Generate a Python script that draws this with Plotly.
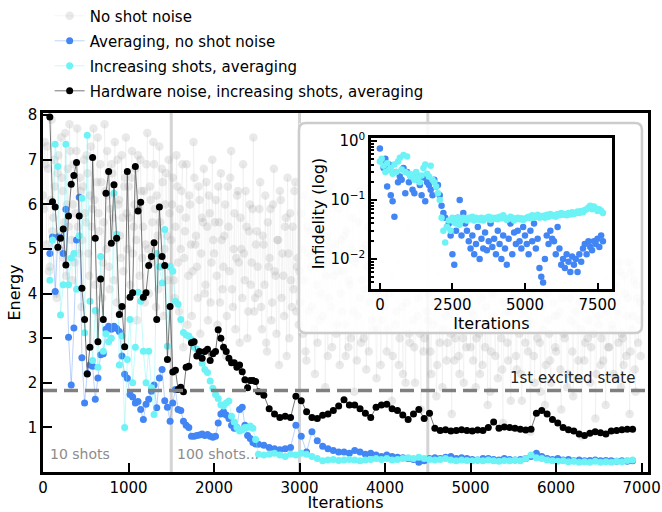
import numpy as np
import plotly.graph_objects as go

# ---------------- data ----------------
# "No shot noise" energies, two interleaved halves (even / odd sample slots)
GRAY_START, GRAY_STEP = 0, 10
GRAY_ENERGY_EVEN = [
    6.2, 7.4, 5.1, 6.8, 4.6, 7.9, 5.7, 6.4, 3.9, 7.1, 5.3, 6.6, 4.8, 7.6, 6.0, 5.5, 7.2, 4.3, 6.9, 5.8, 7.7, 4.9, 6.3, 5.2, 7.0,
    5.6, 6.7, 4.4, 7.3, 5.9, 6.1, 3.6, 7.5, 5.4, 6.5, 4.7, 7.8, 5.0, 6.2, 4.1, 6.9, 5.7, 7.4, 3.8, 6.0, 5.3, 7.1, 4.5, 6.6, 5.8,
    6.4, 4.2, 7.2, 5.5, 6.8, 3.4, 5.9, 7.0, 4.8, 6.3, 5.1, 7.6, 4.0, 6.1, 5.6, 6.9, 3.7, 5.3, 7.3, 4.6, 6.5, 5.0, 6.7, 4.3, 5.8,
    5.2, 6.6, 3.9, 7.1, 4.7, 5.9, 6.3, 2.8, 5.4, 6.9, 4.4, 6.0, 3.5, 7.4, 5.1, 4.6, 6.4, 3.1, 5.7, 6.8, 4.2, 5.5, 6.2, 3.8, 7.0,
    4.9, 6.1, 3.3, 5.6, 6.7, 4.1, 5.3, 2.6, 6.4, 4.5, 7.2, 3.7, 5.8, 4.8, 6.3, 2.9, 5.0, 6.9, 4.3, 5.5, 3.6, 6.0, 4.7, 7.5, 3.9,
    5.4, 4.0, 6.5, 3.2, 5.1, 6.2, 2.7, 4.6, 5.9, 3.8, 6.8, 4.4, 5.2, 2.4, 6.1, 4.9, 3.5, 5.7, 6.6, 3.0, 4.3, 5.5, 6.3, 3.6, 4.8,
    4.5, 5.8, 3.1, 6.2, 2.5, 4.9, 5.4, 3.7, 6.6, 2.2, 4.2, 5.6, 3.4, 6.0, 4.7, 1.9, 5.2, 3.9, 6.4, 2.8, 4.4, 5.1, 3.3, 5.9, 4.0,
    3.6, 5.3, 2.6, 6.1, 4.3, 3.0, 5.7, 1.8, 4.8, 3.5, 6.3, 2.9, 5.0, 4.1, 2.3, 5.5, 3.8, 6.7, 3.2, 4.6, 2.1, 5.2, 4.0, 3.4, 5.9,
    3.9, 2.7, 5.1, 4.4, 1.6, 5.8, 3.3, 4.7, 2.4, 6.0, 3.7, 4.9, 2.0, 5.4, 3.1, 4.2, 6.2, 2.8, 4.6, 3.5, 5.6, 1.4, 4.1, 3.0, 5.0,
    3.4, 4.8, 2.2, 5.3, 3.8, 1.7, 4.5, 2.9, 5.7, 3.2, 4.1, 2.5, 5.0, 3.6, 1.3, 4.4, 3.0, 5.5, 2.6, 4.7, 3.9, 2.0, 5.2, 3.3, 4.3,
    2.8, 4.6, 3.5, 1.9, 5.1, 3.1, 4.2, 2.4, 5.6, 3.7, 1.5, 4.9, 2.7, 4.0, 3.3, 5.4, 2.1, 4.5, 3.0, 1.1, 4.7, 3.6, 2.5, 5.0, 3.9,
    3.2, 4.4, 2.3, 5.3, 3.8, 1.6, 4.1, 2.9, 4.8, 3.4, 0.9, 4.6, 2.6, 5.1, 3.0, 4.3, 1.8, 3.7, 5.5, 2.4, 4.0, 3.1, 2.0, 4.9, 3.5,
    2.7, 4.2, 3.6, 1.4, 4.7, 3.0, 5.2, 2.2, 3.9, 4.5, 1.7, 3.3, 4.9, 2.5, 3.8, 0.8, 4.4, 2.9, 5.0, 3.4, 2.0, 4.1, 3.1, 1.2, 4.6,
    3.3, 2.4, 4.8, 3.7, 1.5, 4.3, 2.8, 5.1, 3.2, 4.0, 2.1, 3.6, 4.7, 1.9, 3.0, 4.4, 2.6, 3.9, 1.3, 4.5, 3.5, 2.3, 4.2, 2.9, 3.8,
]
GRAY_ENERGY_ODD = [
    5.9, 6.9, 7.3, 4.5, 6.1, 5.4, 7.0, 4.0, 6.7, 5.0, 7.5, 6.3, 5.6, 4.4, 6.8, 7.8, 5.2, 6.0, 4.7, 7.2, 5.5, 6.6, 3.7, 6.4, 5.8,
    7.1, 4.9, 6.2, 5.5, 7.7, 4.2, 6.5, 5.8, 6.9, 3.9, 5.6, 6.3, 7.2, 4.6, 5.9, 6.7, 4.3, 5.2, 7.0, 6.1, 4.8, 5.7, 6.4, 7.5, 5.0,
    5.7, 6.6, 4.9, 6.0, 5.2, 7.1, 4.4, 6.3, 5.5, 3.8, 6.9, 5.0, 6.4, 4.7, 7.4, 5.9, 6.2, 4.1, 5.6, 6.8, 3.5, 6.0, 5.3, 7.0, 4.6,
    6.0, 4.3, 5.5, 6.4, 3.6, 5.0, 6.9, 4.8, 5.7, 3.3, 6.2, 5.1, 4.5, 6.6, 5.3, 3.9, 6.1, 4.9, 5.6, 4.0, 6.5, 3.4, 5.8, 4.7, 5.2,
    5.6, 4.4, 6.4, 3.8, 5.2, 4.6, 6.0, 3.5, 5.5, 6.6, 4.1, 5.0, 3.2, 6.2, 4.7, 5.7, 3.9, 4.9, 6.3, 3.0, 5.4, 4.2, 5.9, 3.6, 5.1,
    4.6, 5.9, 3.7, 5.3, 4.2, 2.9, 5.6, 4.8, 3.4, 6.0, 4.5, 3.1, 5.2, 6.3, 3.9, 4.4, 5.5, 2.6, 4.9, 5.8, 3.7, 4.1, 6.5, 4.6, 3.3,
    3.8, 5.0, 4.3, 2.7, 5.5, 3.6, 4.6, 6.1, 3.2, 4.9, 2.9, 5.3, 4.0, 3.5, 5.8, 4.4, 2.6, 5.0, 3.7, 4.7, 6.0, 3.1, 4.5, 2.4, 5.2,
    4.5, 3.3, 5.4, 2.8, 4.2, 5.0, 3.6, 4.7, 2.5, 5.6, 3.9, 4.3, 3.0, 5.1, 4.6, 2.7, 4.9, 3.4, 5.8, 4.0, 3.2, 4.8, 2.4, 5.3, 3.7,
    4.6, 3.2, 4.0, 5.3, 2.6, 4.4, 3.6, 5.0, 3.0, 4.7, 2.2, 4.2, 3.8, 5.5, 2.9, 4.5, 3.4, 2.0, 4.8, 3.9, 3.1, 5.1, 2.7, 4.3, 3.6,
    4.0, 2.7, 4.6, 3.3, 5.0, 2.4, 3.8, 4.4, 1.9, 4.9, 3.5, 2.9, 4.2, 3.1, 5.3, 2.5, 4.0, 3.7, 2.2, 4.6, 3.0, 4.8, 2.8, 3.9, 4.5,
    3.6, 2.5, 4.3, 3.0, 4.8, 2.2, 3.9, 4.5, 2.8, 3.3, 4.7, 1.8, 4.1, 3.5, 2.6, 4.6, 3.2, 5.0, 2.3, 3.8, 4.4, 2.9, 3.6, 1.6, 4.2,
    3.9, 2.6, 4.6, 3.1, 2.2, 4.3, 3.6, 5.0, 2.7, 4.0, 3.3, 4.8, 2.0, 3.7, 4.4, 2.9, 4.1, 3.2, 1.5, 4.7, 3.4, 2.5, 4.2, 3.8, 2.8,
    3.5, 4.6, 2.3, 3.9, 3.1, 4.3, 1.9, 4.8, 3.4, 2.7, 4.1, 3.6, 2.1, 4.5, 3.2, 3.8, 2.5, 4.9, 3.0, 4.2, 2.8, 3.7, 4.4, 2.2, 3.5,
    4.1, 3.0, 2.5, 4.4, 3.6, 2.8, 4.9, 3.3, 2.2, 4.2, 3.8, 2.9, 4.5, 3.1, 2.4, 4.0, 3.5, 4.7, 2.7, 3.2, 4.3, 1.8, 3.9, 3.4, 2.6,
]

EARLY_START, EARLY_STEP = 80, 31.25
LATE_START, LATE_STEP = 2520, 62.5

BLUE_EARLY = [
    4.90, 5.27, 4.05, 5.27, 5.25, 4.90, 5.89, 3.02, 1.95, 3.23,
    5.20, 6.16, 2.56, 1.55, 2.21, 2.40, 2.37, 1.63, 2.11, 2.63,
    2.65, 3.20, 3.27, 3.20, 3.27, 3.22, 3.15, 2.60, 2.19, 2.10,
    1.74, 1.68, 1.55, 1.58, 1.40, 1.18, 1.52, 1.63, 1.81, 1.95,
    1.44, 2.11, 2.30, 1.60, 1.45, 1.14, 1.55, 1.85, 1.40, 1.38,
    1.14, 1.05, 1.00, 0.80, 0.80, 0.82, 0.83, 0.85, 0.82, 0.84,
    0.80, 0.78, 0.80, 1.10, 1.30, 1.35, 1.28, 1.20, 1.05, 0.98,
    1.00, 1.40, 1.45, 1.05, 0.82, 0.75, 0.66, 0.63,
]
BLUE_LATE = [
    0.62, 0.60, 0.55, 0.52, 0.50, 0.52, 0.55, 1.05, 0.80, 0.45,
    0.90, 0.70, 0.58, 0.52, 0.48, 0.45, 0.45, 0.42, 0.48, 0.45,
    0.40, 0.42, 0.38, 0.35, 0.38, 0.35, 0.33, 0.32, 0.30, 0.28,
    0.22, 0.25, 0.30, 0.32, 0.30, 0.33, 0.35, 0.30, 0.32, 0.30,
    0.28, 0.27, 0.30, 0.30, 0.28, 0.27, 0.30, 0.28, 0.27, 0.28,
    0.30, 0.35, 0.42, 0.35, 0.30, 0.28, 0.30, 0.27, 0.28, 0.25,
    0.27, 0.25, 0.26, 0.27, 0.25, 0.26, 0.25, 0.24, 0.25, 0.24,
    0.25,
]
CYAN_EARLY = [
    4.30, 5.20, 7.35, 6.85, 3.52, 4.20, 7.35, 4.20, 4.80, 4.90,
    4.10, 5.30, 6.14, 3.12, 7.55, 3.83, 2.50, 3.62, 2.35, 4.83,
    2.71, 3.10, 2.92, 3.00, 6.25, 5.33, 2.40, 3.05, 1.00, 2.52,
    3.42, 2.00, 2.80, 4.03, 3.83, 2.71, 2.00, 2.71, 1.89, 1.29,
    4.90, 4.60, 4.24, 5.44, 2.82, 4.60, 4.50, 3.83, 3.76, 3.42,
    3.13, 3.07, 3.05, 2.97, 2.80, 2.75, 2.60, 2.44, 2.30, 2.23,
    2.04, 1.88, 1.74, 1.65, 1.51, 1.48, 1.55, 1.59, 1.25, 1.12,
    1.00, 0.92, 0.95, 1.00, 1.00, 1.03, 0.98, 0.73,
]
CYAN_LATE = [
    0.40, 0.38, 0.40, 0.42, 0.38, 0.35, 0.40, 0.38, 0.42, 0.40,
    0.35, 0.30, 0.25, 0.27, 0.28, 0.26, 0.27, 0.28, 0.27, 0.25,
    0.27, 0.28, 0.30, 0.28, 0.30, 0.27, 0.28, 0.30, 0.32, 0.30,
    0.33, 0.30, 0.28, 0.27, 0.28, 0.30, 0.27, 0.25, 0.27, 0.26,
    0.25, 0.27, 0.25, 0.27, 0.25, 0.24, 0.26, 0.25, 0.27, 0.25,
    0.30, 0.38, 0.32, 0.30, 0.27, 0.25, 0.24, 0.25, 0.23, 0.24,
    0.22, 0.23, 0.22, 0.24, 0.22, 0.23, 0.22, 0.24, 0.23, 0.26,
    0.27,
]
BLACK_EARLY = [
    7.96, 6.06, 5.94, 5.04, 5.24, 5.45, 4.64, 5.74, 6.45, 6.65,
    6.94, 5.74, 4.12, 3.42, 2.20, 2.80, 7.05, 5.24, 2.92, 4.33,
    3.42, 6.25, 6.74, 5.13, 6.44, 5.24, 3.53, 3.71, 2.81, 6.74,
    3.92, 4.02, 6.85, 5.85, 6.05, 3.92, 4.02, 4.63, 4.83, 5.14,
    3.42, 5.94, 4.83, 4.63, 2.52, 3.71, 2.24, 2.28, 1.85, 1.90,
    1.80, 2.35, 2.37, 2.90, 2.92, 2.60, 2.70, 2.55, 2.70, 2.75,
    2.50, 2.65, 2.70, 3.19, 3.00, 2.80, 2.70, 2.55, 2.45, 2.45,
    2.35, 2.40, 2.25, 2.07, 1.89, 2.05, 2.05, 2.03,
]
BLACK_LATE = [
    1.80, 1.72, 1.42, 1.30, 1.22, 1.25, 1.22, 1.70, 1.60, 1.35,
    1.22, 1.20, 1.27, 1.30, 1.38, 1.48, 1.62, 1.50, 1.50, 1.42,
    1.32, 1.22, 1.45, 1.50, 1.52, 1.42, 1.38, 1.28, 1.18, 1.30,
    1.40, 1.20, 1.32, 0.98, 0.93, 0.95, 0.92, 0.93, 0.95, 0.93,
    0.92, 0.94, 0.93, 1.00, 1.12, 0.98, 1.01, 1.00, 0.98, 0.96,
    0.94, 0.96, 1.32, 1.38, 1.30, 1.18, 1.10, 1.00, 0.95, 0.92,
    0.85, 0.82, 0.87, 0.90, 0.88, 0.85, 0.92, 0.93, 0.95, 0.96,
    0.96,
]

INSET_START, INSET_STEP = 0, 62.5
INSET_BLUE = [
    0.75, 0.45, 0.35, 0.5, 0.17, 0.4, 0.12, 0.095, 0.052, 0.3, 0.2, 0.25, 0.22, 0.35, 0.13, 0.3,
    0.2, 0.25, 0.15, 0.13, 0.28, 0.22, 0.18, 0.12, 0.24, 0.095, 0.2, 0.18, 0.15, 0.12, 0.22, 0.17,
    0.18, 0.12, 0.08, 0.06, 0.05, 0.035, 0.04, 0.025, 0.012, 0.008, 0.03, 0.05, 0.1, 0.025, 0.06, 0.04,
    0.03, 0.02, 0.015, 0.025, 0.012, 0.018, 0.035, 0.01, 0.022, 0.015, 0.028, 0.014, 0.02, 0.04, 0.016, 0.022,
    0.012, 0.03, 0.018, 0.01, 0.025, 0.015, 0.008, 0.022, 0.04, 0.012, 0.028, 0.018, 0.03, 0.02, 0.015, 0.035,
    0.025, 0.018, 0.012, 0.03, 0.02, 0.04, 0.015, 0.022, 0.007, 0.005, 0.004, 0.01, 0.025, 0.018, 0.03, 0.022,
    0.02, 0.012, 0.035, 0.015, 0.008, 0.01, 0.007, 0.012, 0.009, 0.006, 0.011, 0.008, 0.01, 0.006, 0.012, 0.009,
    0.015, 0.018, 0.012, 0.02, 0.016, 0.014, 0.02, 0.018, 0.022, 0.016, 0.025, 0.02,
]
INSET_CYAN = [
    0.45, 0.5, 0.38, 0.3, 0.42, 0.32, 0.35, 0.28, 0.4, 0.3, 0.45, 0.52, 0.33, 0.58, 0.3, 0.55,
    0.28, 0.25, 0.27, 0.22, 0.3, 0.24, 0.2, 0.26, 0.35, 0.4, 0.28, 0.25, 0.38, 0.22, 0.2, 0.17,
    0.13, 0.1, 0.05, 0.03, 0.019, 0.035, 0.045, 0.03, 0.05, 0.042, 0.04, 0.05, 0.038, 0.045, 0.05, 0.048,
    0.045, 0.05, 0.047, 0.052, 0.045, 0.05, 0.048, 0.046, 0.05, 0.045, 0.048, 0.05, 0.052, 0.046, 0.05, 0.048,
    0.05, 0.047, 0.052, 0.049, 0.055, 0.05, 0.046, 0.048, 0.052, 0.05, 0.045, 0.048, 0.05, 0.047, 0.049, 0.046,
    0.048, 0.05, 0.052, 0.049, 0.055, 0.05, 0.053, 0.056, 0.05, 0.052, 0.054, 0.05, 0.056, 0.052, 0.058, 0.054,
    0.055, 0.052, 0.058, 0.055, 0.06, 0.056, 0.058, 0.055, 0.06, 0.057, 0.062, 0.058, 0.06, 0.064, 0.06, 0.065,
    0.062, 0.068, 0.07, 0.075, 0.08, 0.07, 0.078, 0.072, 0.065, 0.07, 0.066, 0.06,
]

SHOT_SWITCH = [1500, 3000, 4500]
EXCITED_STATE = 1.83
X_TICKS = [0, 1000, 2000, 3000, 4000, 5000, 6000, 7000]
Y_TICKS = [1, 2, 3, 4, 5, 6, 7, 8]
INSET_X_TICKS = [0, 2500, 5000, 7500]
INSET_Y_TICKS = [1, 0.1, 0.01]
INSET_Y_LABELS = ["10<sup>0</sup>", "10<sup>\u22121</sup>", "10<sup>\u22122</sup>"]

# ---------------- styling ----------------
FONT = "DejaVu Sans"
BLUE = "#4285f4"
CYAN = "#6df3f6"

gray_energy = np.empty(len(GRAY_ENERGY_EVEN) + len(GRAY_ENERGY_ODD))
gray_energy[0::2] = GRAY_ENERGY_EVEN
gray_energy[1::2] = GRAY_ENERGY_ODD
gray_it = GRAY_START + GRAY_STEP * np.arange(len(gray_energy))
early_it = EARLY_START + EARLY_STEP * np.arange(len(BLACK_EARLY))
late_it = LATE_START + LATE_STEP * np.arange(len(BLACK_LATE))
inset_it = INSET_START + INSET_STEP * np.arange(len(INSET_BLUE))


def series(early, late):
    return np.concatenate([early_it, late_it]), np.concatenate([early, late])


fig = go.Figure()

fig.add_trace(go.Scatter(
    x=gray_it, y=gray_energy, mode="lines+markers", name="No shot noise",
    legendgroup="a",
    line=dict(color="rgba(175,175,175,0.15)", width=0.8),
    marker=dict(color="rgba(160,160,160,0.23)", size=8.5),
))

bx, by = series(BLUE_EARLY, BLUE_LATE)
fig.add_trace(go.Scatter(
    x=bx, y=by, mode="lines+markers", name="Averaging, no shot noise", legendgroup="b",
    line=dict(color="rgba(66,133,244,0.45)", width=0.8),
    marker=dict(color=BLUE, size=7),
))
cx, cy = series(CYAN_EARLY, CYAN_LATE)
fig.add_trace(go.Scatter(
    x=cx, y=cy, mode="lines+markers", name="Increasing shots, averaging", legendgroup="c",
    line=dict(color="rgba(109,243,246,0.5)", width=0.8),
    marker=dict(color=CYAN, size=7),
))
kx, ky = series(BLACK_EARLY, BLACK_LATE)
fig.add_trace(go.Scatter(
    x=kx, y=ky, mode="lines+markers", name="Hardware noise, increasing shots, averaging",
    legendgroup="d",
    line=dict(color="#555555", width=0.8),
    marker=dict(color="black", size=7),
))

# box subplot (x2/y2) behind the inset, just to provide a background
fig.add_trace(go.Scatter(x=[None], y=[None], xaxis="x2", yaxis="y2", showlegend=False))

# inset
fig.add_trace(go.Scatter(
    x=inset_it, y=INSET_BLUE, mode="markers", xaxis="x3", yaxis="y3", showlegend=False,
    marker=dict(color=BLUE, size=6.5),
))
fig.add_trace(go.Scatter(
    x=inset_it, y=INSET_CYAN, mode="markers", xaxis="x3", yaxis="y3", showlegend=False,
    marker=dict(color=CYAN, size=6.5),
))

shapes = []
for s in SHOT_SWITCH:
    shapes.append(dict(type="line", xref="x", yref="y domain", x0=s, x1=s, y0=0, y1=1,
                       line=dict(color="#d4d4d4", width=3), layer="below"))
shapes.append(dict(type="line", xref="x domain", yref="y", x0=0, x1=1,
                   y0=EXCITED_STATE, y1=EXCITED_STATE,
                   line=dict(color="#808080", width=3.5, dash="14px,7px"), layer="above"))

# rounded frame of the inset box
bx0, bx1, by0, by1 = 0.423, 0.990, 0.387, 0.972
rx, ry = 7 / 605, 7 / 359
path = (f"M {bx0+rx},{by0} L {bx1-rx},{by0} Q {bx1},{by0} {bx1},{by0+ry} "
        f"L {bx1},{by1-ry} Q {bx1},{by1} {bx1-rx},{by1} L {bx0+rx},{by1} "
        f"Q {bx0},{by1} {bx0},{by1-ry} L {bx0},{by0+ry} Q {bx0},{by0} {bx0+rx},{by0} Z")
shapes.append(dict(type="path", xref="paper", yref="paper", path=path,
                   line=dict(color="#cccccc", width=2.5), layer="above"))

tickfont = dict(family=FONT, size=15, color="black")
titlefont = dict(family=FONT, size=16, color="black")

minor_vals = [m * 10.0 ** e for e in (-3, -2, -1) for m in range(2, 10)]

fig.update_layout(
    width=662, height=512,
    margin=dict(l=43, r=14, t=113, b=40, autoexpand=False),
    paper_bgcolor="white",
    plot_bgcolor="rgba(255,255,255,0.85)",
    font=dict(family=FONT, size=15, color="black"),
    showlegend=True,
    legend=dict(x=0.011, y=1.316, xanchor="left", yanchor="top",
                font=dict(family=FONT, size=15, color="black"),
                bgcolor="rgba(0,0,0,0)", traceorder="grouped", tracegroupgap=2.5),
    shapes=shapes,
    xaxis=dict(domain=[0, 1], range=[0, 7075], tickvals=X_TICKS, ticks="inside",
               ticklen=9, tickwidth=2, tickcolor="black", showline=True, linewidth=2.5,
               linecolor="black", mirror=True, showgrid=False, zeroline=False,
               ticklabeloverflow="allow",
               tickfont=tickfont, title=dict(text="Iterations", font=titlefont, standoff=0)),
    yaxis=dict(domain=[0, 1], range=[0, 8.05], tickvals=Y_TICKS, ticks="inside",
               ticklen=9, tickwidth=2, tickcolor="black", showline=True, linewidth=2.5,
               linecolor="black", mirror=True, showgrid=False, zeroline=False,
               tickfont=tickfont, title=dict(text="Energy", font=titlefont, standoff=4)),
    xaxis2=dict(domain=[bx0, bx1], anchor="y2", range=[0, 1], visible=False),
    yaxis2=dict(domain=[by0, by1], anchor="x2", range=[0, 1], visible=False),
    xaxis3=dict(domain=[0.542, 0.9405], anchor="y3", range=[-310, 8000],
                tickvals=INSET_X_TICKS, ticks="inside", ticklen=6, tickwidth=2,
                tickcolor="black", showline=True, linewidth=2.5, linecolor="black",
                mirror=True, showgrid=False, zeroline=False, tickfont=tickfont,
                title=dict(text="Iterations", font=titlefont, standoff=0)),
    yaxis3=dict(domain=[0.5097, 0.930], anchor="x3", type="log", range=[-2.51, 0.05],
                tickvals=INSET_Y_TICKS, ticktext=INSET_Y_LABELS, ticks="inside",
                ticklen=6, tickwidth=2, tickcolor="black", showline=True, linewidth=2.5,
                linecolor="black", mirror=True, showgrid=False, zeroline=False,
                tickfont=tickfont,
                minor=dict(tickvals=minor_vals, ticks="inside", ticklen=3, tickwidth=1.5,
                           tickcolor="black", showgrid=False),
                title=dict(text="Infidelity (log)", font=titlefont, standoff=2)),
    annotations=[
        dict(x=60, y=0.4, xref="x", yref="y", text="10 shots", showarrow=False,
             xanchor="left", font=dict(family=FONT, size=14, color="#8c8c8c")),
        dict(x=1540, y=0.4, xref="x", yref="y", text="100 shots...", showarrow=False,
             xanchor="left", font=dict(family=FONT, size=14, color="#8c8c8c")),
        dict(x=6950, y=2.1, xref="x", yref="y", text="1st excited state", showarrow=False,
             xanchor="right", font=dict(family=FONT, size=15, color="#222222")),
    ],
)

fig.write_html("out.html")
